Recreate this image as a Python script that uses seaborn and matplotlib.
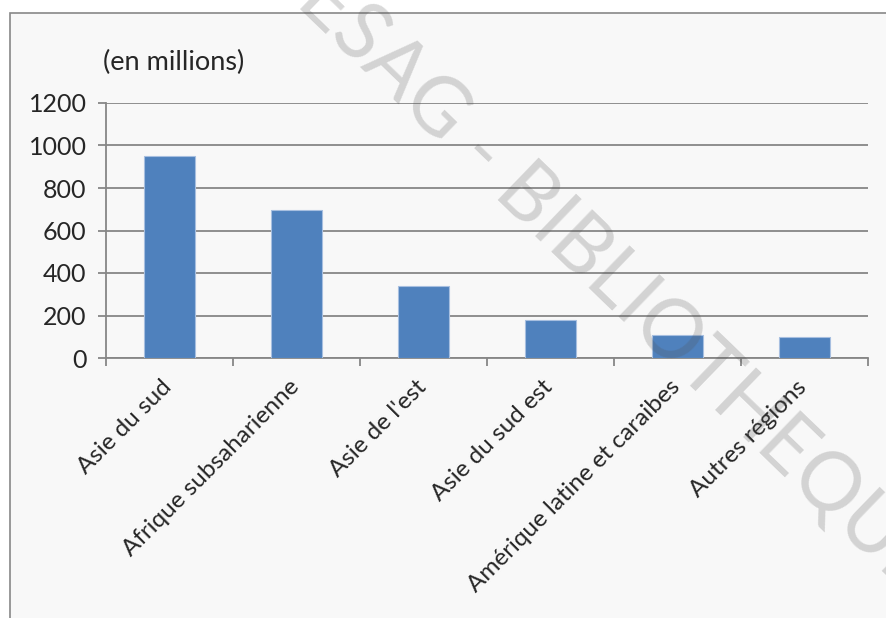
import pandas as pd
import matplotlib.pyplot as plt
import matplotlib.patches as mpatches
import matplotlib.transforms as mtransforms
import seaborn as sns

sns.set_theme(style='white')
plt.rcParams['font.family'] = ['Lato', 'DejaVu Sans']

regions = ['Asie du sud', 'Afrique subsaharienne', "Asie de l'est", 'Asie du sud est',
           'Amérique latine et caraibes', 'Autres régions']
pauvres = [952, 696, 338, 177, 108, 99]
yticks = [0, 200, 400, 600, 800, 1000, 1200]

df = pd.DataFrame({'region': regions, 'pauvres': pauvres})

fig = plt.figure(figsize=(8.87, 6.18), dpi=100, facecolor='white')

# cadre du graphique (style Excel)
frame = mpatches.Rectangle((10 / 887, -0.1), 1.2, 1 - 13 / 618 + 0.1, transform=fig.transFigure,
                           facecolor='#f8f8f8', edgecolor='#888888', linewidth=1.2, zorder=-10)
fig.patches.append(frame)

ax = fig.add_axes([106 / 887, 1 - 358 / 618, (868 - 106) / 887, (358 - 103) / 618])
ax.set_facecolor('none')

sns.barplot(data=df, x='region', y='pauvres', color='#4f81bd', width=0.4,
            edgecolor='#a7bfe0', linewidth=0.8, saturation=1, ax=ax, zorder=3)

ax.set_xlim(-0.5, len(regions) - 0.5)
ax.set_ylim(0, 1200)
ax.set_yticks(yticks)
ax.yaxis.grid(True, color='#868686', linewidth=1.3, zorder=0)
ax.set_axisbelow(True)

for s in ['top', 'right']:
    ax.spines[s].set_visible(False)
for s in ['left', 'bottom']:
    ax.spines[s].set_color('#868686')
    ax.spines[s].set_linewidth(1.3)

ax.tick_params(axis='y', which='major', direction='out', length=6, width=1.3,
               color='#868686', labelsize=18, pad=8, left=True)
ax.set_xticks([i - 0.5 for i in range(len(regions) + 1)], minor=True)
ax.tick_params(axis='x', which='minor', direction='out', length=6, width=1.3,
               color='#868686', bottom=True)
ax.tick_params(axis='x', which='major', length=0, labelsize=17.5, pad=2)
ax.set_xticks(range(len(regions)))
ax.set_xticklabels(regions, rotation=45, ha='right', rotation_mode='anchor')
shift = mtransforms.ScaledTranslation(-6 / 72, -11 / 72, fig.dpi_scale_trans)
for lab in ax.get_xticklabels():
    lab.set_transform(lab.get_transform() + shift)
ax.set_xlabel('')
ax.set_ylabel('')

fig.text(103 / 887, 1 - 62 / 618, '(en millions)', fontsize=19.5, va='center', ha='left')

# filigrane
fig.text(598 / 887, 1 - 266 / 618, 'CESAG - BIBLIOTHEQUE', fontsize=58,
         color='#505050', alpha=0.22, rotation=-44, ha='center', va='center',
         rotation_mode='anchor', zorder=20)

fig.savefig('out.png', dpi=100, facecolor='white')
